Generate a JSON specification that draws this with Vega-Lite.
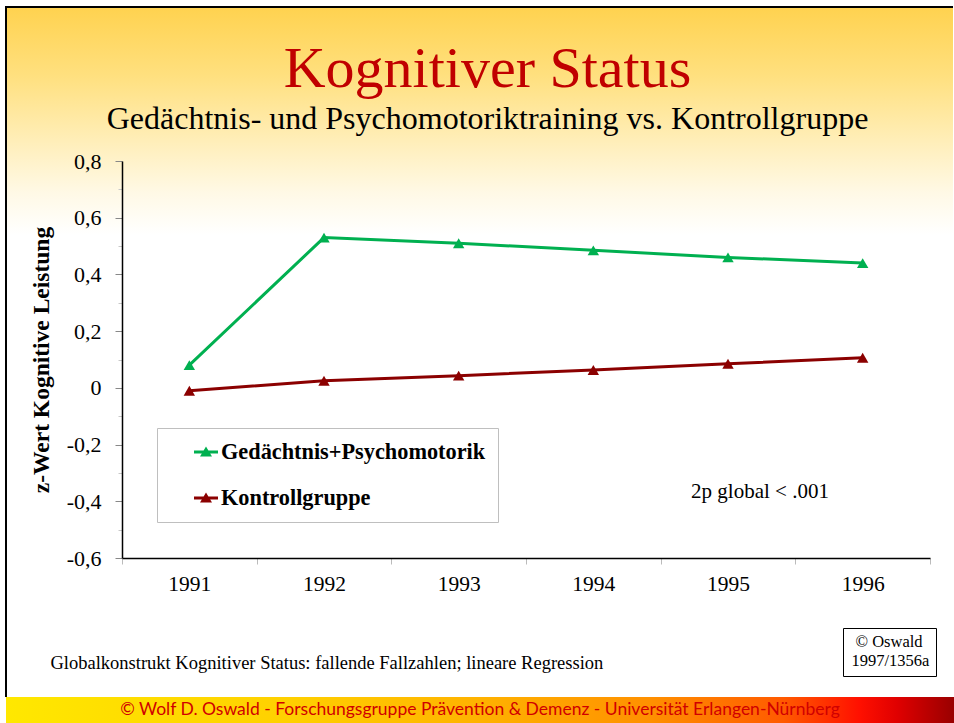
{
  "$schema": "https://vega.github.io/schema/vega-lite/v6.json",
  "padding": {"left": 5, "top": 6, "right": 0, "bottom": 0},
  "background": "white",
  "spacing": 0,
  "bounds": "flush",
  "config": {"view": {"stroke": null}, "font": "Liberation Serif"},
  "datasets": {
    "series": [
      {"group": "Gedächtnis+Psychomotorik", "year": 1991, "value": 0.08},
      {"group": "Gedächtnis+Psychomotorik", "year": 1992, "value": 0.53},
      {"group": "Gedächtnis+Psychomotorik", "year": 1993, "value": 0.51},
      {"group": "Gedächtnis+Psychomotorik", "year": 1994, "value": 0.485},
      {"group": "Gedächtnis+Psychomotorik", "year": 1995, "value": 0.46},
      {"group": "Gedächtnis+Psychomotorik", "year": 1996, "value": 0.44},
      {"group": "Kontrollgruppe", "year": 1991, "value": -0.01},
      {"group": "Kontrollgruppe", "year": 1992, "value": 0.025},
      {"group": "Kontrollgruppe", "year": 1993, "value": 0.043},
      {"group": "Kontrollgruppe", "year": 1994, "value": 0.063},
      {"group": "Kontrollgruppe", "year": 1995, "value": 0.085},
      {"group": "Kontrollgruppe", "year": 1996, "value": 0.106}
    ],
    "notes": [
      {"year": 1995, "value": -0.367, "note": "2p global < .001", "ref": "1997/1356a"}
    ],
    "footer": [
      {"label": "© Wolf  D. Oswald - Forschungsgruppe Prävention & Demenz - Universität Erlangen-Nürnberg"}
    ]
  },
  "vconcat": [
    {
      "width": 947,
      "height": 690,
      "view": {
        "fill": {"gradient": "linear", "x1": 0, "y1": 0, "x2": 0, "y2": 1,
          "stops": [
            {"offset": 0, "color": "#FFD24F"},
            {"offset": 0.1, "color": "#FFE07F"},
            {"offset": 0.2, "color": "#FFEFBC"},
            {"offset": 0.27, "color": "#FFF9E6"},
            {"offset": 0.33, "color": "#FFFFFF"},
            {"offset": 1, "color": "#FFFFFF"}
          ]},
        "stroke": "black",
        "strokeWidth": 2,
        "strokeDash": [947, 1637, 690]
      },
      "title": {
        "text": "Kognitiver Status",
        "subtitle": "Gedächtnis- und Psychomotoriktraining vs. Kontrollgruppe",
        "anchor": "middle",
        "frame": "group",
        "offset": -128,
        "dx": 8,
        "font": "Liberation Serif",
        "fontSize": 58,
        "fontWeight": "normal",
        "color": "#C00000",
        "subtitleFont": "Liberation Serif",
        "subtitleFontSize": 32,
        "subtitleColor": "black",
        "subtitlePadding": 5
      },
      "layer": [
        {
          "data": {"name": "series"},
          "mark": {"type": "line", "strokeWidth": 3},
          "encoding": {
            "x": {"field": "year", "type": "ordinal",
              "scale": {"type": "band", "range": [116, 924], "paddingInner": 0, "paddingOuter": 0},
              "axis": {
                "orient": "bottom", "offset": -139, "tickBand": "extent", "tickSize": 6,
                "tickColor": "#bbbbbb", "domainColor": "black", "domainWidth": 1.5,
                "labelFont": "Liberation Serif", "labelFontSize": 21.5, "labelColor": "black",
                "labelPadding": 9, "labelAngle": 0, "grid": false,
                "title": "Globalkonstrukt Kognitiver Status: fallende Fallzahlen; lineare Regression",
                "titleFont": "Liberation Serif", "titleFontSize": 18.5, "titleFontWeight": "normal",
                "titleColor": "black", "titleX": 44, "titleY": 104, "titleAlign": "left",
                "titleAnchor": "start", "titleBaseline": "middle"
              }},
            "y": {"field": "value", "type": "quantitative",
              "scale": {"domain": [-0.6, 0.8], "range": [551, 154], "nice": false, "zero": false},
              "axis": {
                "orient": "left", "offset": -116,
                "values": [0.8, 0.7, 0.6, 0.5, 0.4, 0.3, 0.2, 0.1, 0, -0.1, -0.2, -0.3, -0.4, -0.5, -0.6],
                "labelExpr": "abs(round(datum.value*10)) % 2 == 1 ? '' : (datum.value == 0 ? '0' : (datum.value < 0 ? '-' : '') + '0,' + abs(round(datum.value*10)))",
                "tickSize": {"condition": {"test": "abs(round(datum.value*10)) % 2 == 1", "value": 4}, "value": 7},
                "tickColor": {"condition": {"test": "abs(round(datum.value*10)) % 2 == 1", "value": "#c8c8c8"}, "value": "#888888"},
                "domainColor": "black", "domainWidth": 1.5, "grid": false,
                "labelFont": "Liberation Serif", "labelFontSize": 22, "labelColor": "black", "labelPadding": 14,
                "title": "z-Wert Kognitive Leistung", "titleFont": "Liberation Serif", "titleFontSize": 23.5,
                "titleFontWeight": "bold", "titleColor": "black", "titlePadding": 13
              }},
            "color": {"field": "group", "type": "nominal",
              "scale": {"domain": ["Gedächtnis+Psychomotorik", "Kontrollgruppe"], "range": ["#00B050", "#8B0000"]},
              "legend": {
                "orient": "none", "legendX": 151, "legendY": 421, "title": null, "direction": "vertical",
                "fillColor": "white", "strokeColor": "#BFBFBF", "padding": 12,
                "symbolType": "M-1,-0.12H1V0.12H-1ZM-0.5,0.38L0,-0.45L0.5,0.38Z",
                "symbolSize": 576, "symbolStrokeWidth": 0, "symbolOpacity": 1, "symbolOffset": 25,
                "symbolFillColor": "#00B050",
                "labelFont": "Liberation Serif", "labelFontSize": 22.3, "labelFontWeight": "bold",
                "labelColor": "black", "labelOffset": 3, "rowPadding": 22, "labelLimit": 450
              }}
          }
        },
        {
          "data": {"name": "series"},
          "mark": {"type": "point", "shape": "triangle-up", "filled": true, "size": 130, "opacity": 1},
          "encoding": {
            "x": {"field": "year", "type": "ordinal"},
            "y": {"field": "value", "type": "quantitative"},
            "color": {"field": "group", "type": "nominal"}
          }
        },
        {
          "data": {"name": "notes"},
          "mark": {"type": "text", "font": "Liberation Serif", "fontSize": 21, "dx": 32, "color": "black"},
          "encoding": {
            "x": {"field": "year", "type": "ordinal"},
            "y": {"field": "value", "type": "quantitative"},
            "text": {"field": "note"},
            "opacity": {"field": "ref", "type": "nominal", "scale": {"range": [1, 1]},
              "legend": {
                "orient": "none", "legendX": 837, "legendY": 621, "title": "© Oswald",
                "titleFont": "Liberation Serif", "titleFontSize": 16.5, "titleFontWeight": "normal",
                "titleColor": "black", "titleAnchor": "middle", "titlePadding": 2,
                "labelFont": "Liberation Serif", "labelFontSize": 16.5, "labelColor": "black", "labelOffset": -14,
                "symbolSize": 0, "symbolOpacity": 0, "symbolStrokeWidth": 0,
                "strokeColor": "black", "fillColor": "white", "padding": 6
              }}
          }
        }
      ]
    },
    {
      "width": 948,
      "height": 26,
      "data": {"name": "footer"},
      "layer": [
        {
          "mark": {"type": "rect", "color": {"gradient": "linear", "x1": 0, "y1": 0, "x2": 1, "y2": 0,
            "stops": [
              {"offset": 0, "color": "#FFE800"},
              {"offset": 0.3, "color": "#FFD000"},
              {"offset": 0.5, "color": "#FFB200"},
              {"offset": 0.68, "color": "#FF9000"},
              {"offset": 0.82, "color": "#FF5A00"},
              {"offset": 0.9, "color": "#FF1000"},
              {"offset": 0.94, "color": "#E00000"},
              {"offset": 1, "color": "#990000"}
            ]}},
          "encoding": {}
        },
        {
          "mark": {"type": "text", "font": "Lato", "fontSize": 17.5, "color": "#D00000"},
          "encoding": {"text": {"field": "label"}}
        }
      ]
    }
  ]
}
